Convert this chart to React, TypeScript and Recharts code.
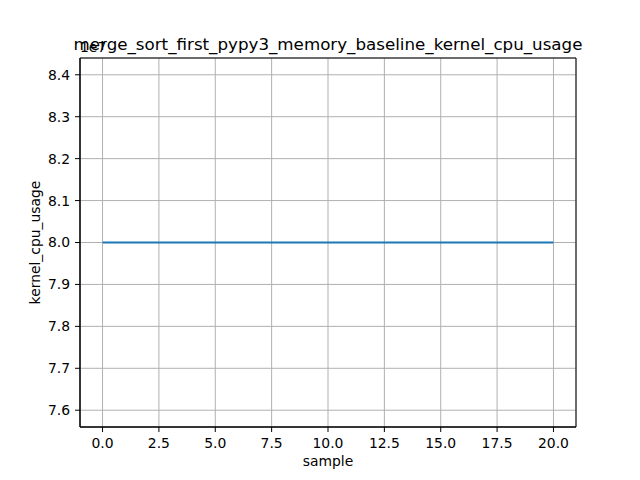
import React from "react";
import { Line, LineChart, CartesianGrid, XAxis, YAxis, ReferenceArea } from "recharts";

// samples 0..20, constant kernel cpu usage
const samples = [0, 1, 2, 3, 4, 5, 6, 7, 8, 9, 10, 11, 12, 13, 14, 15, 16, 17, 18, 19, 20];
const kernelCpuUsage = [
  80000000, 80000000, 80000000, 80000000, 80000000, 80000000, 80000000,
  80000000, 80000000, 80000000, 80000000, 80000000, 80000000, 80000000,
  80000000, 80000000, 80000000, 80000000, 80000000, 80000000, 80000000,
];
const xTicks = [0, 2.5, 5, 7.5, 10, 12.5, 15, 17.5, 20];
const yTicks = [76000000, 77000000, 78000000, 79000000, 80000000, 81000000, 82000000, 83000000, 84000000];
const xDomain = [-1, 21];
const yDomain = [75600000, 84400000];

const title = "merge_sort_first_pypy3_memory_baseline_kernel_cpu_usage";

const data = samples.map((s, i) => ({ sample: s, usage: kernelCpuUsage[i] }));

const font = "DejaVu Sans, sans-serif";
const tickStyle = { fill: "#000", fontSize: 13.9, fontFamily: font };

const App: React.FC = () => {
  return (
    <div style={{ position: "absolute", left: 0, top: 0, width: 640, height: 480, background: "#fff" }}>
      <LineChart
        width={640}
        height={480}
        data={data}
        margin={{ top: 58, right: 64, bottom: 0, left: 0 }}
        style={{ fontFamily: font }}
      >
        <CartesianGrid stroke="#b0b0b0" strokeWidth={1} />
        <XAxis
          dataKey="sample"
          type="number"
          domain={xDomain}
          ticks={xTicks}
          allowDataOverflow
          height={53}
          stroke="#000"
          tickSize={5}
          tickMargin={6}
          tick={tickStyle}
          tickFormatter={(v: number) => v.toFixed(1)}
          label={{
            content: () => (
              <g fontFamily={font} fill="#000">
                <text x={328} y={466} textAnchor="middle" fontSize={13.9}>
                  sample
                </text>
                <text x={80} y={52} fontSize={13.9}>
                  1e7
                </text>
                <text x={328} y={50} textAnchor="middle" fontSize={16.7}>
                  {title}
                </text>
                <text
                  x={40}
                  y={242.5}
                  transform="rotate(-90, 40, 242.5)"
                  textAnchor="middle"
                  fontSize={13.9}
                >
                  kernel_cpu_usage
                </text>
              </g>
            ),
          }}
        />
        <YAxis
          type="number"
          domain={yDomain}
          ticks={yTicks}
          allowDataOverflow
          width={80}
          stroke="#000"
          tickSize={5}
          tickMargin={5}
          tick={tickStyle}
          tickFormatter={(v: number) => (v / 1e7).toFixed(1)}
        />
        <Line
          type="linear"
          dataKey="usage"
          stroke="#1f77b4"
          strokeWidth={2}
          dot={false}
          isAnimationActive={false}
        />
        {/* axes frame */}
        <ReferenceArea
          x1={xDomain[0]}
          x2={xDomain[1]}
          y1={yDomain[0]}
          y2={yDomain[1]}
          fill="none"
          stroke="#000"
          strokeWidth={1}
          ifOverflow="visible"
        />
      </LineChart>
    </div>
  );
};

export default App;
